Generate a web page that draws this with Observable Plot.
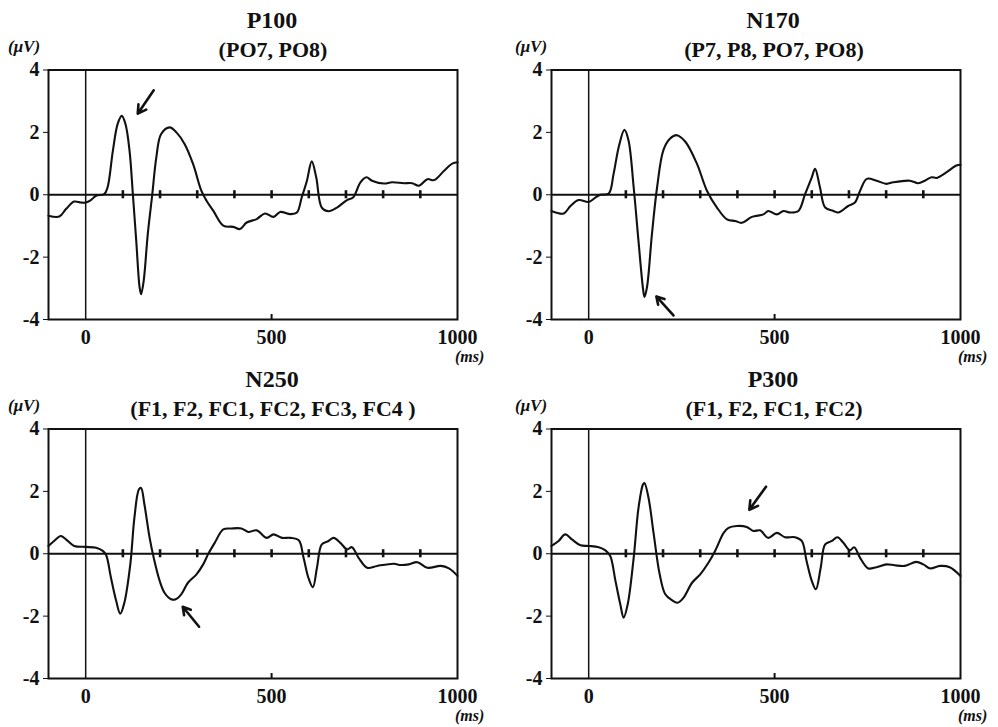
<!DOCTYPE html>
<html><head><meta charset="utf-8">
<script src="https://cdn.jsdelivr.net/npm/d3@7"></script>
<script src="https://cdn.jsdelivr.net/npm/@observablehq/plot@0.6"></script>
<style>
body{margin:0;background:#fff;width:998px;height:727px;position:relative;overflow:hidden;font-family:"Liberation Serif",serif;color:#111}
.t{position:absolute;font-weight:bold;font-size:22px;line-height:22px;white-space:nowrap;transform:translateX(-50%)}
.t.big{font-size:24px;line-height:24px}
.u{position:absolute;font-weight:bold;font-style:italic;font-size:17px;line-height:17px;white-space:nowrap}
.u.ms{font-size:16px;line-height:16px}
.p{position:absolute}
</style></head><body>
<script>
// ---- data ----
const titles = ["P100", "N170", "N250", "P300"];
const subtitles = ["(PO7, PO8)", "(P7, P8, PO7, PO8)", "(F1, F2, FC1, FC2, FC3, FC4 )", "(F1, F2, FC1, FC2)"];
const yUnit = "(\u03bcV)";
const xUnit = "(ms)";
const yTicks = [-4, -2, 0, 2, 4];
const xTicks = [0, 500, 1000];
const zeroTicks = [100, 200, 300, 400, 500, 600, 700, 800, 900];

const p100T = [-100,-71,-53,-31,-13,0,14,28,50,59,73,86,97,107,118,127,136,145,149,156,167,179,190,203,226,244,266,289,311,325,343,370,397,415,433,460,482,505,523,550,568,581,595,608,620,635,653,676,703,719,739,755,770,802,824,856,878,896,919,937,964,986,1000];
const p100V = [-0.67,-0.7,-0.46,-0.22,-0.25,-0.25,-0.17,-0.03,0.02,0.24,1.4,2.27,2.53,2.27,1.41,0,-1.48,-2.97,-3.19,-2.76,-1.26,0,1.2,1.95,2.16,2.0,1.63,0.98,0.13,-0.19,-0.51,-0.99,-1.03,-1.1,-0.89,-0.78,-0.6,-0.71,-0.55,-0.62,-0.57,-0.09,0.45,1.07,0.56,-0.41,-0.53,-0.41,-0.17,-0.09,0.4,0.56,0.45,0.36,0.4,0.37,0.37,0.29,0.5,0.47,0.77,1.0,1.04];

const n170T = [-100,-67,-49,-27,0,18,31,54,67,81,96,107,121,134,146,150,157,170,184,201,219,237,260,291,318,345,372,394,412,439,470,483,506,524,542,564,582,600,609,622,636,658,671,698,716,730,748,774,801,819,864,886,904,922,936,962,989,1000];
const n170V = [-0.52,-0.6,-0.36,-0.17,-0.23,-0.09,0,0.04,0.67,1.54,2.08,1.75,0.24,-1.49,-3.0,-3.28,-2.95,-1.28,0.24,1.43,1.8,1.91,1.7,1.0,0.13,-0.41,-0.79,-0.84,-0.9,-0.71,-0.63,-0.52,-0.63,-0.52,-0.57,-0.52,0.02,0.56,0.83,0.24,-0.41,-0.52,-0.57,-0.36,-0.25,0.13,0.51,0.45,0.35,0.4,0.45,0.37,0.45,0.56,0.54,0.72,0.94,0.96];

const n250T = [-100,-85,-67,-53,-31,0,28,46,55,68,82,93,104,120,131,143,149,158,172,183,199,212,230,242,257,275,298,316,329,347,370,392,419,437,460,487,505,528,550,573,586,599,611,622,635,653,667,685,703,716,734,757,784,829,847,869,892,919,955,977,1000];
const n250V = [0.25,0.41,0.57,0.46,0.25,0.22,0.19,0.09,-0.04,-0.77,-1.51,-1.92,-1.57,-0.34,1.15,2.06,2.11,1.58,0.51,-0.13,-0.87,-1.25,-1.46,-1.46,-1.3,-0.93,-0.66,-0.34,-0.02,0.35,0.78,0.81,0.81,0.7,0.75,0.51,0.62,0.51,0.51,0.43,-0.13,-0.77,-1.07,-0.45,0.3,0.41,0.51,0.35,0.14,0.21,-0.13,-0.45,-0.39,-0.32,-0.36,-0.34,-0.27,-0.45,-0.39,-0.47,-0.71];

const p300T = [-100,-81,-63,-45,-22,0,27,45,58,72,85,94,105,121,134,146,150,161,175,191,206,224,239,255,278,300,322,340,363,376,398,425,443,461,483,506,528,555,573,586,600,611,624,636,654,669,685,703,714,730,752,774,801,823,850,881,900,918,945,971,1000];
const p300V = [0.25,0.41,0.62,0.46,0.27,0.25,0.21,0.11,-0.07,-0.87,-1.62,-2.05,-1.62,-0.13,1.47,2.22,2.27,1.79,0.62,-0.66,-1.3,-1.49,-1.57,-1.41,-0.93,-0.66,-0.29,0.09,0.67,0.83,0.89,0.86,0.73,0.75,0.51,0.67,0.53,0.53,0.41,-0.23,-0.87,-1.14,-0.45,0.3,0.41,0.53,0.35,0.11,0.21,-0.13,-0.47,-0.43,-0.34,-0.37,-0.39,-0.26,-0.34,-0.47,-0.39,-0.43,-0.71];

// arrows: tail (x1,y1) -> head (x2,y2), per panel
const arrowX1 = [183, 228, 305, 477];
const arrowY1 = [3.35, -3.87, -2.34, 2.15];
const arrowX2 = [140, 182, 261, 432];
const arrowY2 = [2.6, -3.26, -1.70, 1.41];

// ---- layout ----
const series = [[p100T, p100V], [n170T, n170V], [n250T, n250V], [p300T, p300V]];
const layout = [
  {left: 0,   top: 0,   ml: 48, mr: 42, cx: 272, uL: 8},
  {left: 499, top: 0,   ml: 52, mr: 38, cx: 773, uL: 515},
  {left: 0,   top: 359, ml: 48, mr: 42, cx: 272, uL: 8},
  {left: 499, top: 359, ml: 52, mr: 38, cx: 773, uL: 515}
];
const ink = "#111";
const font = "'Liberation Serif', serif";

function addText(cls, text, x, y) {
  const d = document.createElement("div");
  d.className = cls;
  d.textContent = text;
  d.style.left = x + "px";
  d.style.top = y + "px";
  document.body.appendChild(d);
}

series.forEach(([T, V], i) => {
  const L = layout[i];
  const data = T.map((t, k) => ({t, v: V[k]}));
  const arrow = [{x1: arrowX1[i], y1: arrowY1[i], x2: arrowX2[i], y2: arrowY2[i]}];
  const chart = Plot.plot({
    width: 499, height: 305,
    marginLeft: L.ml, marginRight: L.mr, marginTop: 14.5, marginBottom: 41,
    x: {domain: [-100, 1000], label: null},
    y: {domain: [-4, 4], label: null},
    style: {fontFamily: font, fontWeight: "bold", fontSize: "20px", color: ink, background: "transparent", overflow: "visible"},
    marks: [
      Plot.axisX({ticks: xTicks, tickSize: 0, tickPadding: 10, label: null, tickFormat: d => String(d)}),
      Plot.axisY({ticks: yTicks, tickSize: 5, tickPadding: 4, label: null, tickFormat: d => String(d)}),
      Plot.ruleX(xTicks.slice(1, 2), {y1: -4, y2: -3.84, stroke: ink, strokeWidth: 2}),
      Plot.ruleX([0], {stroke: ink, strokeWidth: 1.5}),
      Plot.ruleY([0], {stroke: ink, strokeWidth: 2}),
      Plot.ruleX(zeroTicks, {y1: -0.13, y2: 0.13, stroke: ink, strokeWidth: 2.6}),
      Plot.line(data, {x: "t", y: "v", curve: "catmull-rom", stroke: ink, strokeWidth: 2.1}),
      Plot.arrow(arrow, {x1: "x1", y1: "y1", x2: "x2", y2: "y2", stroke: ink, strokeWidth: 2.6, headLength: 9}),
      Plot.frame({stroke: ink, strokeWidth: 2})
    ]
  });
  const wrap = document.createElement("div");
  wrap.className = "p";
  wrap.style.left = L.left + "px";
  wrap.style.top = (L.top + 55) + "px";
  wrap.appendChild(chart);
  document.body.appendChild(wrap);

  addText("t big", titles[i], L.cx, L.top + 7.5);
  addText("t", subtitles[i], L.cx + 1, L.top + 38.6);
  addText("u", yUnit, L.uL, L.top + 38);
  addText("u ms", xUnit, L.left + L.ml + 407, L.top + 349);
});
</script>
</body></html>
